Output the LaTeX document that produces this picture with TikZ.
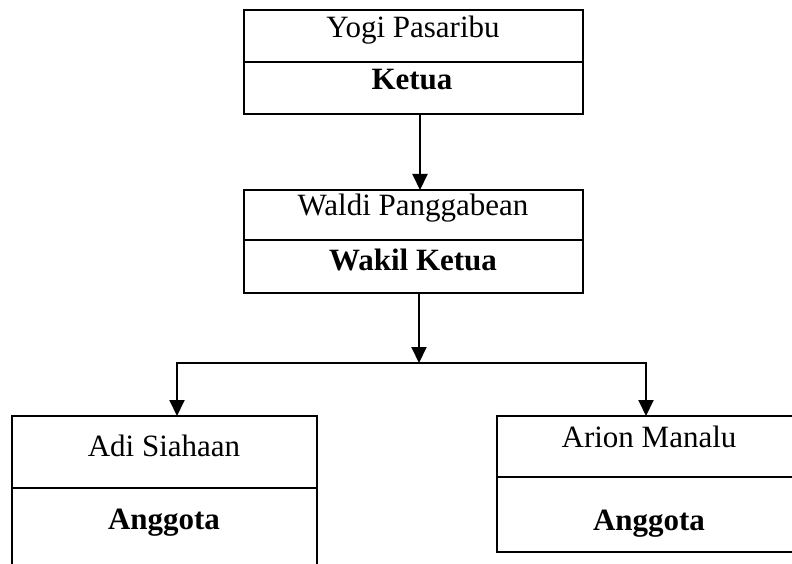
\documentclass[tikz,border=0pt]{standalone}
\usepackage{fontspec}
\setmainfont{Liberation Serif}
\usetikzlibrary{arrows.meta}
\begin{document}
\begin{tikzpicture}[x=1pt,y=-1pt,
  box/.style={draw, line width=2pt, rectangle, inner sep=0pt, outer sep=0pt, anchor=north west},
  thinbox/.style={box, line width=1.6pt},
  txt/.style={anchor=base, inner sep=0pt, font=\fontsize{31}{37}\selectfont},
  btxt/.style={txt, font=\fontsize{31}{37}\selectfont\bfseries},
  conn/.style={line width=2pt},
  arr/.style={conn, -{Triangle[width=15pt,length=16pt]}}]
\useasboundingbox (0,0) rectangle (792,564);
\clip (0,0) rectangle (792,564);
\fill[white] (0,0) rectangle (792,564);
% boxes
\node[box, minimum width=339pt, minimum height=104pt] (ketua) at (244,10) {};
\draw[line width=2pt] (244,62) -- (583,62);
\node[box, minimum width=339pt, minimum height=103pt] (wakil) at (244,190) {};
\draw[line width=2pt] (244,240) -- (583,240);
\node[thinbox, minimum width=305pt, minimum height=190pt] (adi) at (12,416) {};
\draw[line width=1.6pt] (12,488) -- (317,488);
\node[thinbox, minimum width=304pt, minimum height=136pt] (arion) at (497,416) {};
\draw[line width=1.6pt] (497,477) -- (801,477);
% texts
\node[txt] (t1) at (413,38) {Yogi Pasaribu};
\node[btxt] (t2) at (412,90) {Ketua};
\node[txt] (t3) at (413,215) {Waldi Panggabean};
\node[btxt] (t4) at (413,270) {Wakil Ketua};
\node[txt] (t5) at (164,456) {Adi Siahaan};
\node[btxt] (t6) at (164,529) {Anggota};
\node[txt] (t7) at (649,447) {Arion Manalu};
\node[btxt] (t8) at (649,530) {Anggota};
% connectors
\coordinate (split) at (419,363);
\draw[arr] (ketua.south -| 420,0) -- (wakil.north -| 420,0);
\draw[arr] (wakil.south -| split) -- (split);
\draw[conn] (split) -| (177,375);
\draw[conn] (split) -| (646,375);
\draw[arr] (177,362) -- (adi.north -| 177,0);
\draw[arr] (646,362) -- (arion.north -| 646,0);
\end{tikzpicture}
\end{document}
